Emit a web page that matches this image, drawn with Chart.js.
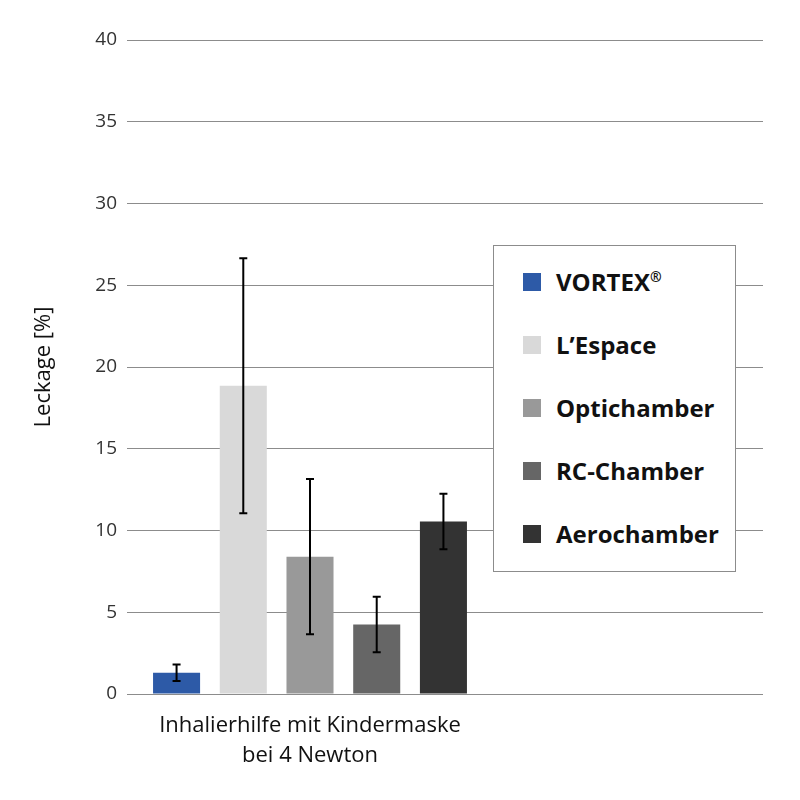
<!DOCTYPE html>
<html>
<head>
<meta charset="utf-8">
<script src="https://cdn.jsdelivr.net/npm/chart.js@4/dist/chart.umd.min.js"></script>
<style>
  html,body{margin:0;padding:0;background:#fff;}
  #wrap{position:relative;width:800px;height:800px;}
  #legend{position:absolute;left:493px;top:245px;width:243px;height:327px;border:1px solid #8c8c8c;background:#fff;
    font-family:'Open Sans',sans-serif;font-weight:bold;font-size:24px;color:#111;box-sizing:border-box;padding-top:4px;}
  #legend .it{height:63px;display:flex;align-items:center;padding-left:29px;}
  #legend .sw{width:18px;height:18px;margin-right:15px;flex:none;}
  #legend sup{font-size:14px;vertical-align:0;position:relative;top:-9px;}
</style>
</head>
<body>
<div id="wrap">
  <canvas id="chart"></canvas>
  <div id="legend"></div>
</div>
<script>
// Leckage je Inhalierhilfe (Mittelwert ± Fehler), Kindermaske bei 4 Newton
const xLabel   = ['Inhalierhilfe mit Kindermaske', 'bei 4 Newton'];
const series   = ['VORTEX®', 'L’Espace', 'Optichamber', 'RC-Chamber', 'Aerochamber'];
const values   = [1.3, 18.85, 8.4, 4.25, 10.55];
const errors   = [0.5, 7.8, 4.75, 1.7, 1.7];
const colors   = ['#2d5aa7', '#d9d9d9', '#999999', '#666666', '#333333'];
const yTicks   = [0, 5, 10, 15, 20, 25, 30, 35, 40];

// Fehlerbalken über die y-Skala
const errorBars = {
  id:'errorBars',
  afterDatasetsDraw(chart) {
    const ctx = chart.ctx, y = chart.scales.y;
    ctx.save();
    ctx.strokeStyle = '#000'; ctx.lineWidth = 2;
    chart.data.datasets.forEach((ds, i) => {
      const bar = chart.getDatasetMeta(i).data[0];
      if (!bar) return;
      const top = y.getPixelForValue(values[i] + errors[i]);
      const bot = y.getPixelForValue(values[i] - errors[i]);
      ctx.beginPath();
      ctx.moveTo(bar.x, top); ctx.lineTo(bar.x, bot);
      ctx.moveTo(bar.x - 4, top); ctx.lineTo(bar.x + 4, top);
      ctx.moveTo(bar.x - 4, bot); ctx.lineTo(bar.x + 4, bot);
      ctx.stroke();
    });
    ctx.restore();
  }
};

new Chart(document.getElementById('chart'), {
  type:'bar',
  data:{
    datasets: series.map((s, i) => ({
      label:s, data:[{x:0, y:values[i]}],
      backgroundColor:colors[i], borderWidth:0,
      categoryPercentage:0.5245, barPercentage:0.705,
    }))
  },
  options:{
    responsive:true, maintainAspectRatio:false, animation:false,
    layout:{padding:{top:40, right:37, left:0, bottom:0}},
    plugins:{legend:{display:false}, tooltip:{enabled:false}},
    scales:{
      x:{
        type:'linear', min:-0.5, max:1.2377, offset:false,
        afterBuildTicks: s => { s.ticks = [{value:0}]; },
        afterFit: s => { s.height = 106; },
        grid:{display:false}, border:{display:false},
        ticks:{
          padding:8, maxRotation:0, autoSkip:false,
          color:'#111', font:{family:'Open Sans', size:22, lineHeight:1.4},
          callback: () => xLabel,
        },
      },
      y:{
        min:0, max:40,
        afterBuildTicks: s => { s.ticks = yTicks.map(v => ({value:v})); },
        afterFit: s => { s.width = 127; },
        grid:{color:'#8c8c8c', lineWidth:1, tickLength:0},
        border:{display:false},
        ticks:{padding:10, color:'#333', font:{family:'Open Sans', size:19}},
        title:{display:true, text:'Leckage [%]', color:'#111',
          font:{family:'Open Sans', size:22}, padding:{top:31, bottom:0}},
      }
    }
  },
  plugins:[errorBars]
});

// Legende als HTML-Kasten
document.getElementById('legend').innerHTML = series.map((s, i) =>
  `<div class="it"><span class="sw" style="background:${colors[i]}"></span>` +
  `<span>${s.replace('®', '<sup>®</sup>')}</span></div>`).join('');
</script>
</body>
</html>
